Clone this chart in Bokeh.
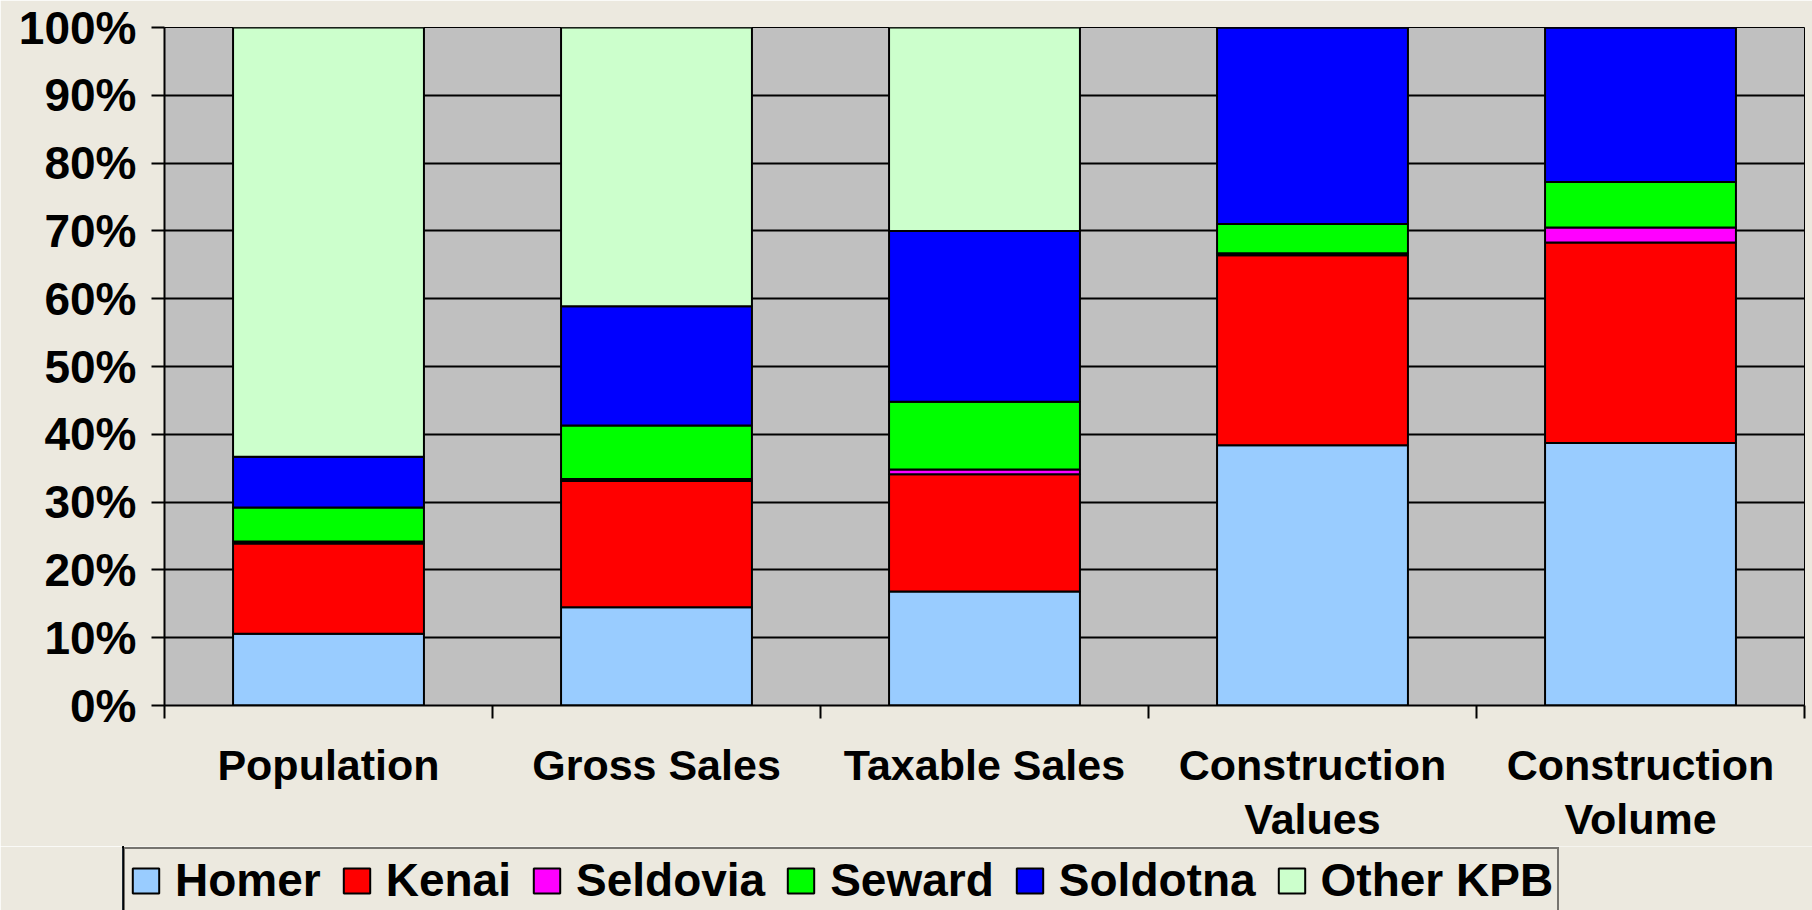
from bokeh.plotting import figure
from bokeh.models import (ColumnDataSource, FixedTicker, PrintfTickFormatter,
                          Legend, LegendItem, Range1d)
from bokeh.layouts import column
from bokeh.embed import file_html
from bokeh.resources import INLINE

# ---- data (percent share of Kenai Peninsula Borough total) ----
categories = ["Population", "Gross Sales", "Taxable Sales",
              "Construction\nValues", "Construction\nVolume"]
series = ["Homer", "Kenai", "Seldovia", "Seward", "Soldotna", "Other KPB"]
homer = [10.6, 14.5, 16.8, 38.4, 38.7]
kenai = [13.3, 18.6, 17.3, 28.0, 29.6]
seldovia = [0.3, 0.3, 0.7, 0.3, 2.2]
seward = [5.0, 7.9, 10.0, 4.3, 6.7]
soldotna = [7.5, 17.6, 25.2, 29.0, 22.8]
other_kpb = [63.3, 41.1, 30.0, 0.0, 0.0]
colors = ["#99CCFF", "#FF0000", "#FF00FF", "#00FF00", "#0000FF", "#CCFFCC"]
y_ticks = list(range(0, 101, 10))

FONT = "Liberation Sans"
BG = "#ECE9DF"
W = 1812
H1 = 846
H2 = 910 - H1

xs = [i + 0.5 for i in range(len(categories))]
source = ColumnDataSource(dict(
    x=xs, Homer=homer, Kenai=kenai, Seldovia=seldovia, Seward=seward,
    Soldotna=soldotna, **{"Other KPB": other_kpb}))

p = figure(width=W, height=H1, output_backend="svg", toolbar_location=None,
           x_range=Range1d(0, len(categories)), y_range=Range1d(0, 100),
           min_border_left=164, min_border_top=27, min_border_bottom=H1 - 707,
           min_border_right=8)
p.background_fill_color = "#C0C0C0"
p.border_fill_color = BG
p.outline_line_color = "black"
p.outline_line_width = 1

p.vbar_stack(series, x="x", width=0.582, source=source,
             color=colors, line_color="black", line_width=2)

# grid
p.xgrid.visible = False
p.ygrid.ticker = FixedTicker(ticks=y_ticks)
p.ygrid.grid_line_color = "black"
p.ygrid.grid_line_width = 2

# y axis
p.yaxis.ticker = FixedTicker(ticks=y_ticks)
p.yaxis.formatter = PrintfTickFormatter(format="%d%%")
p.yaxis.major_label_text_font = FONT
p.yaxis.major_label_text_font_style = "bold"
p.yaxis.major_label_text_font_size = "46px"
p.yaxis.major_label_text_color = "black"
p.yaxis.major_tick_out = 13
p.yaxis.major_tick_in = 0
p.yaxis.major_tick_line_width = 2
p.yaxis.major_tick_line_color = "black"
p.yaxis.minor_tick_line_color = None
p.yaxis.axis_line_width = 2
p.yaxis.axis_line_color = "black"
p.yaxis.major_label_standoff = 15

# x axis
p.xaxis.ticker = FixedTicker(ticks=xs, minor_ticks=list(range(len(categories) + 1)))
p.xaxis.major_label_overrides = {x: c for x, c in zip(xs, categories)}
p.xaxis.major_label_text_font = FONT
p.xaxis.major_label_text_font_style = "bold"
p.xaxis.major_label_text_font_size = "43px"
p.xaxis.major_label_text_line_height = 1.14
p.xaxis.major_label_text_color = "black"
p.xaxis.major_tick_line_color = None
p.xaxis.major_tick_out = 0
p.xaxis.major_tick_in = 0
p.xaxis.minor_tick_line_color = "black"
p.xaxis.minor_tick_line_width = 2
p.xaxis.minor_tick_out = 13
p.xaxis.minor_tick_in = 0
p.xaxis.axis_line_width = 2
p.xaxis.axis_line_color = "black"
p.xaxis.major_label_standoff = 22

# ---- legend strip (separate figure below the chart) ----
p2 = figure(width=W, height=H2, output_backend="svg", toolbar_location=None,
            x_axis_type=None, y_axis_type=None,
            x_range=Range1d(1000, 1001), y_range=Range1d(0, 1),
            min_border_left=122, min_border_right=0, min_border_top=0,
            min_border_bottom=0)
p2.background_fill_color = BG
p2.border_fill_color = BG
p2.outline_line_color = None
p2.xgrid.visible = False
p2.ygrid.visible = False
for fig in (p, p2):
    if "frame_align" in fig.properties():
        fig.frame_align = False

# same stacked data, drawn off-screen here only to feed the legend swatches
legend_renderers = p2.vbar_stack(series, x="x", width=0.582, source=source,
                                 color=colors, line_color="black", line_width=2)
items = [LegendItem(label=s, renderers=[r]) for s, r in zip(series, legend_renderers)]

legend = Legend(items=items, orientation="horizontal", location="top_left")
legend.label_text_font = FONT
legend.label_text_font_style = "bold"
legend.label_text_font_size = "46px"
legend.label_text_color = "black"
legend.glyph_width = 33
legend.glyph_height = 31
legend.label_standoff = 13
legend.spacing = 19
legend.padding = 4
legend.margin = 1
legend.border_line_color = "black"
legend.border_line_width = 2
legend.background_fill_alpha = 0
p2.add_layout(legend, "center")

layout = column(p, p2, spacing=0)
open("out.html", "w").write(file_html(layout, INLINE))
